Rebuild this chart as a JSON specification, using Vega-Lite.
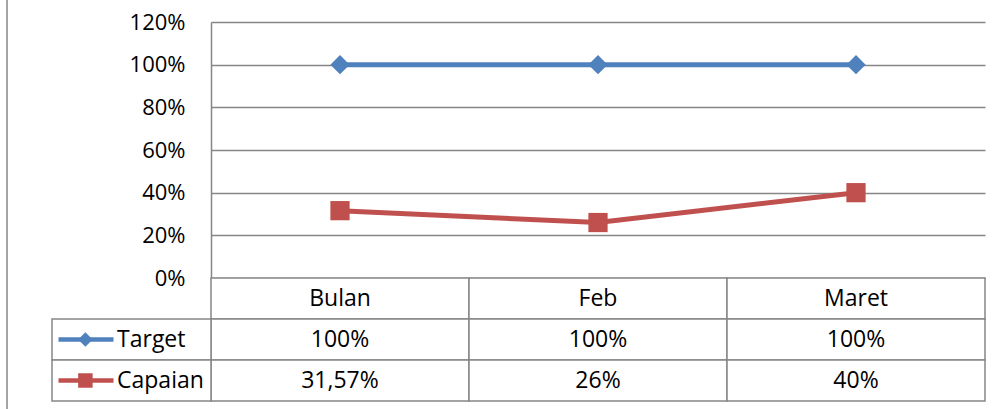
{
  "$schema": "https://vega.github.io/schema/vega-lite/v6.json",
  "width": 1000,
  "height": 419,
  "padding": {"left": 7, "top": -5, "right": -5, "bottom": -5},
  "autosize": {"type": "none"},
  "background": "white",
  "config": {
    "view": {"stroke": "#868686", "strokeWidth": 1.5},
    "font": "Open Sans",
    "text": {"font": "Open Sans", "fontSize": 23, "color": "black"}
  },
  "data": {
    "values": [
      {"month": "Bulan", "series": "Target", "value": 1.0, "label": "100%"},
      {"month": "Feb", "series": "Target", "value": 1.0, "label": "100%"},
      {"month": "Maret", "series": "Target", "value": 1.0, "label": "100%"},
      {"month": "Bulan", "series": "Capaian", "value": 0.3157, "label": "31,57%"},
      {"month": "Feb", "series": "Capaian", "value": 0.26, "label": "26%"},
      {"month": "Maret", "series": "Capaian", "value": 0.40, "label": "40%"}
    ]
  },
  "resolve": {"scale": {"x": "independent", "y": "independent"}},
  "layer": [
    {
      "encoding": {
        "x": {"field": "month", "type": "nominal", "scale": {"type": "band", "domain": ["Bulan", "Feb", "Maret"], "range": [204, 978], "paddingInner": 0, "paddingOuter": 0}, "axis": null},
        "y": {"field": "value", "type": "quantitative", "scale": {"domain": [0, 1.2], "range": [283, 27], "nice": false, "zero": false},
          "axis": {"values": [0, 0.2, 0.4, 0.6, 0.8, 1, 1.2], "format": ".0%", "title": null, "offset": -204, "ticks": false, "tickSize": 0, "labelPadding": 26,
            "domain": true, "domainColor": "#868686", "domainWidth": 1.5, "grid": true, "gridColor": "#868686", "gridWidth": 1.5,
            "labelFont": "Open Sans", "labelFontSize": 22, "labelColor": "black"}},
        "color": {"field": "series", "type": "nominal", "scale": {"domain": ["Target", "Capaian"], "range": ["#4F81BD", "#C0504D"]}, "legend": null}
      },
      "layer": [
        {"mark": {"type": "line", "strokeWidth": 5}},
        {"mark": {"type": "point", "filled": true, "opacity": 1, "size": 370},
          "encoding": {"shape": {"field": "series", "type": "nominal", "scale": {"domain": ["Target", "Capaian"], "range": ["diamond", "square"]}, "legend": null}}}
      ]
    },
    {
      "encoding": {
        "x": {"field": "month", "type": "nominal", "scale": {"type": "band", "domain": ["Bulan", "Feb", "Maret"], "range": [204, 978], "paddingInner": 0, "paddingOuter": 0}, "axis": null}
      },
      "layer": [
        {"transform": [{"filter": "datum.series === 'Target'"}],
          "mark": {"type": "rect", "fill": "white", "stroke": "#868686", "strokeWidth": 1.5},
          "encoding": {"y": {"datum": "header", "type": "nominal", "scale": {"type": "band", "domain": ["header", "Target", "Capaian"], "range": [283, 406], "paddingInner": 0, "paddingOuter": 0}, "axis": null}}},
        {"mark": {"type": "rect", "fill": "white", "stroke": "#868686", "strokeWidth": 1.5},
          "encoding": {"y": {"field": "series", "type": "nominal", "scale": {"type": "band", "domain": ["header", "Target", "Capaian"], "range": [283, 406], "paddingInner": 0, "paddingOuter": 0}, "axis": null}}},
        {"transform": [{"filter": "datum.series === 'Target'"}],
          "mark": {"type": "text", "baseline": "middle", "align": "center"},
          "encoding": {"y": {"datum": "header", "type": "nominal", "scale": {"type": "band", "domain": ["header", "Target", "Capaian"], "range": [283, 406], "paddingInner": 0, "paddingOuter": 0}, "axis": null},
            "text": {"field": "month"}}},
        {"mark": {"type": "text", "baseline": "middle", "align": "center"},
          "encoding": {"y": {"field": "series", "type": "nominal", "scale": {"type": "band", "domain": ["header", "Target", "Capaian"], "range": [283, 406], "paddingInner": 0, "paddingOuter": 0}, "axis": null},
            "text": {"field": "label"}}}
      ]
    },
    {
      "transform": [{"filter": "datum.month === 'Bulan'"}],
      "encoding": {
        "y": {"field": "series", "type": "nominal", "scale": {"type": "band", "domain": ["header", "Target", "Capaian"], "range": [283, 406], "paddingInner": 0, "paddingOuter": 0}, "axis": null}
      },
      "layer": [
        {"mark": {"type": "rect", "fill": "white", "stroke": "#868686", "strokeWidth": 1.5},
          "encoding": {"x": {"datum": "legend", "type": "nominal", "scale": {"type": "band", "domain": ["legend"], "range": [45, 204], "paddingInner": 0, "paddingOuter": 0}, "axis": null}}},
        {"mark": {"type": "tick", "orient": "horizontal", "size": 55, "thickness": 4.5, "opacity": 1, "xOffset": -45.5},
          "encoding": {"x": {"datum": "legend", "type": "nominal", "scale": {"type": "band", "domain": ["legend"], "range": [45, 204], "paddingInner": 0, "paddingOuter": 0}, "axis": null},
            "color": {"field": "series", "type": "nominal", "scale": {"domain": ["Target", "Capaian"], "range": ["#4F81BD", "#C0504D"]}, "legend": null}}},
        {"mark": {"type": "point", "filled": true, "opacity": 1, "size": 210},
          "encoding": {"x": {"datum": "legend", "type": "nominal", "bandPosition": 0.21, "scale": {"type": "band", "domain": ["legend"], "range": [45, 204], "paddingInner": 0, "paddingOuter": 0}, "axis": null},
            "color": {"field": "series", "type": "nominal", "scale": {"domain": ["Target", "Capaian"], "range": ["#4F81BD", "#C0504D"]}, "legend": null},
            "shape": {"field": "series", "type": "nominal", "scale": {"domain": ["Target", "Capaian"], "range": ["diamond", "square"]}, "legend": null}}},
        {"mark": {"type": "text", "align": "left", "baseline": "middle"},
          "encoding": {"x": {"datum": "legend", "type": "nominal", "bandPosition": 0.409, "scale": {"type": "band", "domain": ["legend"], "range": [45, 204], "paddingInner": 0, "paddingOuter": 0}, "axis": null},
            "text": {"field": "series"}}}
      ]
    }
  ]
}
